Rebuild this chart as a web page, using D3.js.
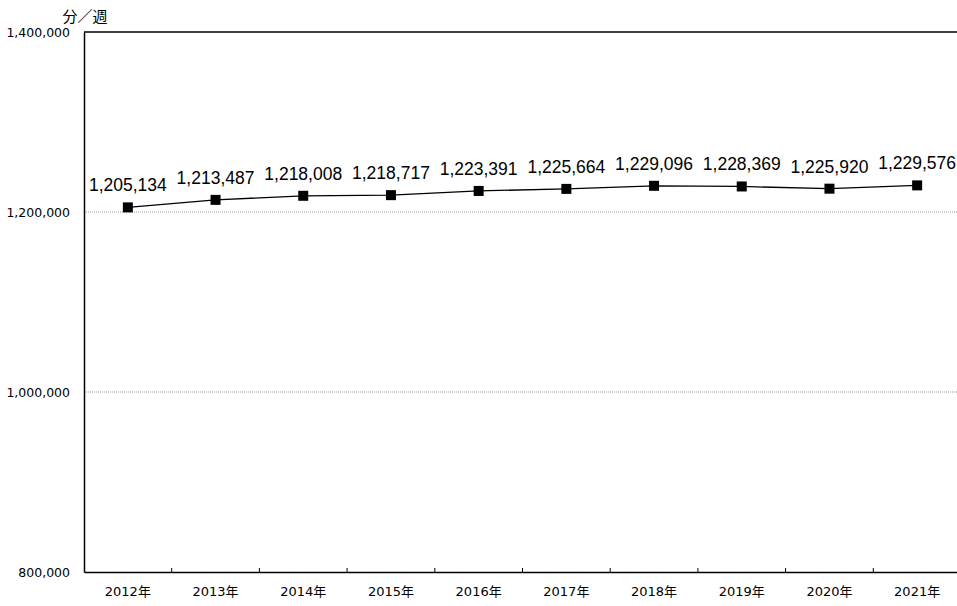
<!DOCTYPE html>
<html><head><meta charset="utf-8">
<script src="https://cdn.jsdelivr.net/npm/d3@7"></script>
<style>body{margin:0;background:#fff}svg{display:block}</style>
</head><body>
<script>
const years = ["2012年","2013年","2014年","2015年","2016年","2017年","2018年","2019年","2020年","2021年"];
const values = [1205134,1213487,1218008,1218717,1223391,1225664,1229096,1228369,1225920,1229576];
const yTicks = [800000,1000000,1200000,1400000];
const unitLabel = "分／週";

const W = 957, H = 606;
const m = {left:84, top:32, right:-4, bottom:34};
const svg = d3.select("body").append("svg").attr("width",W).attr("height",H);

const x = d3.scaleBand().domain(years).range([m.left, W - m.right]);
const y = d3.scaleLinear().domain([800000,1400000]).range([H - m.bottom, m.top]);
const fmt = d3.format(",");

// gridlines
svg.append("g").selectAll("line").data([1000000,1200000]).join("line")
  .attr("x1", m.left).attr("x2", W).attr("y1", d=>y(d)).attr("y2", d=>y(d))
  .attr("stroke","#999").attr("stroke-width",1).attr("stroke-dasharray","1,1");

// top border
svg.append("line").attr("x1",m.left).attr("x2",W).attr("y1",y(1400000)).attr("y2",y(1400000))
  .attr("stroke","#000").attr("stroke-width",1.5);

// y axis
const ya = svg.append("g").attr("transform",`translate(${m.left},0)`)
  .call(d3.axisLeft(y).tickValues(yTicks).tickFormat(fmt).tickSize(0).tickPadding(14));
ya.select(".domain").attr("stroke","#000").attr("stroke-width",1.5);
ya.selectAll("text").attr("font-family","'DejaVu Sans', sans-serif").attr("font-size",12.5).attr("fill","#000").attr("dy","0.35em");

// x axis
const xa = svg.append("g").attr("transform",`translate(0,${y(800000)})`)
  .call(d3.axisBottom(x).tickSize(0).tickPadding(15));
xa.select(".domain").attr("stroke","#000").attr("stroke-width",1.5);
xa.selectAll("text").attr("font-family","'DejaVu Sans','Noto Sans CJK JP', sans-serif").attr("font-size",13).attr("fill","#000");
// boundary tick marks (inside)
svg.append("g").selectAll("line").data(years.slice(1)).join("line")
  .attr("x1", d=>x(d)).attr("x2", d=>x(d))
  .attr("y1", y(800000)).attr("y2", y(800000)-4)
  .attr("stroke","#000").attr("stroke-width",1);

// line
svg.append("path").datum(values)
  .attr("d", d3.line().x((d,i)=>x(years[i]) + x.bandwidth()/2).y(d=>y(d)))
  .attr("fill","none").attr("stroke","#000").attr("stroke-width",1.3);

// markers
svg.append("g").selectAll("rect").data(values).join("rect")
  .attr("x",(d,i)=>x(years[i]) + x.bandwidth()/2 - 5)
  .attr("y",d=>y(d)-5).attr("width",10).attr("height",10).attr("fill","#000");

// data labels
svg.append("g").selectAll("text").data(values).join("text")
  .attr("x",(d,i)=>x(years[i]) + x.bandwidth()/2)
  .attr("y",d=>y(d)-16)
  .attr("text-anchor","middle")
  .attr("font-family","'Liberation Sans', Arial, sans-serif").attr("font-size",17.5)
  .attr("fill","#000").text(d=>fmt(d));

// unit label
svg.append("text").attr("x",85).attr("y",22).attr("text-anchor","middle")
  .attr("font-family","'Noto Sans CJK JP', sans-serif").attr("font-size",15)
  .attr("fill","#000").text(unitLabel);
</script>
</body></html>
